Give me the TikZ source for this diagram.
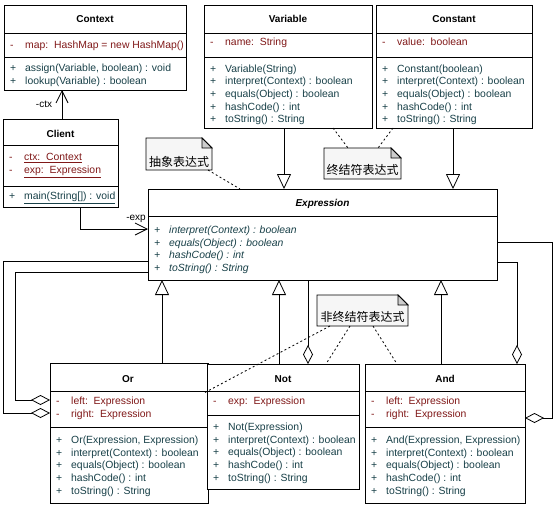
\documentclass[tikz,border=0pt]{standalone}
\usepackage{fontspec}
\setmainfont{Liberation Sans}
\newfontfamily\cjk{Noto Sans CJK SC}
\usetikzlibrary{arrows.meta,calc}
\definecolor{attrc}{RGB}{128,24,24}
\definecolor{methc}{RGB}{24,64,72}
\definecolor{notebg}{RGB}{246,246,246}
\definecolor{foldbg}{RGB}{205,205,205}
\newcommand\cellsign[1]{\makebox[15pt][l]{#1}}
\newcommand\methodrows[5]{%
  \foreach \t [count=\i] in {#5} {\node[#4] (#1m\i) at (#2,{#3+12.7*(\i-1)}) {\cellsign{+}\t};}}
\begin{document}
\begin{tikzpicture}[x=1pt,y=-1pt,
  cls/.style={draw, fill=white, rectangle, inner sep=0pt, outer sep=0pt, anchor=north west, line width=0.8pt},
  ttl/.style={anchor=base, inner sep=0pt, font=\fontsize{10}{12}\selectfont\bfseries},
  arow/.style={anchor=base west, inner sep=0pt, font=\fontsize{10.4}{12}\selectfont, text=attrc},
  mrow/.style={anchor=base west, inner sep=0pt, font=\fontsize{10.4}{12}\selectfont, text=methc},
  irow/.style={anchor=base west, inner sep=0pt, font=\fontsize{10.4}{12}\selectfont\itshape, text=methc},
  lbl/.style={inner sep=0pt, font=\fontsize{10}{12}\selectfont},
  sepline/.style={line width=0.8pt},
  gen/.style={line width=0.8pt, -{Triangle[open, length=15pt, width=14pt]}},
  agg/.style={line width=0.8pt, -{Diamond[open, length=19pt, width=10pt]}},
  assoc/.style={line width=0.8pt, -{Straight Barb[length=12pt, width=12pt]}},
  notelink/.style={line width=0.8pt, dash pattern=on 2pt off 2.5pt},
  notebox/.style={rectangle, inner sep=0pt, outer sep=0pt, anchor=north west},
  noteshape/.style={draw, fill=notebg, line width=0.8pt},
  notefold/.style={draw, fill=foldbg, line width=0.8pt},
  notetext/.style={inner sep=0pt, font=\cjk\fontsize{12}{14}\selectfont}
]
\fill[white] (0,0) rectangle (555,506);
\useasboundingbox (0,0) rectangle (555,506);

% ---------- class boxes ----------
\node[cls, minimum width=182pt, minimum height=85pt] (ctx) at (4,5) {};
\node[cls, minimum width=168pt, minimum height=123pt] (var) at (204,5) {};
\node[cls, minimum width=156pt, minimum height=123pt] (con) at (376,5) {};
\node[cls, minimum width=115pt, minimum height=88pt] (cli) at (3,119) {};
\node[cls, minimum width=349pt, minimum height=91pt] (expr) at (148,189) {};
\node[cls, minimum width=158pt, minimum height=140pt] (or) at (50,363) {};
\node[cls, minimum width=152pt, minimum height=125pt] (not) at (207,364) {};
\node[cls, minimum width=160pt, minimum height=139pt] (and) at (365,364) {};

% compartments
\draw[sepline] ($(ctx.north west)+(0,28)$) -- ($(ctx.north east)+(0,28)$);
\draw[sepline] ($(ctx.north west)+(0,52)$) -- ($(ctx.north east)+(0,52)$);
\draw[sepline] ($(var.north west)+(0,28)$) -- ($(var.north east)+(0,28)$);
\draw[sepline] ($(var.north west)+(0,52)$) -- ($(var.north east)+(0,52)$);
\draw[sepline] ($(con.north west)+(0,28)$) -- ($(con.north east)+(0,28)$);
\draw[sepline] ($(con.north west)+(0,52)$) -- ($(con.north east)+(0,52)$);
\draw[sepline] ($(cli.north west)+(0,26)$) -- ($(cli.north east)+(0,26)$);
\draw[sepline] ($(cli.north west)+(0,67)$) -- ($(cli.north east)+(0,67)$);
\draw[sepline] ($(expr.north west)+(0,27)$) -- ($(expr.north east)+(0,27)$);
\draw[sepline] ($(or.north west)+(0,28)$) -- ($(or.north east)+(0,28)$);
\draw[sepline] ($(or.north west)+(0,64)$) -- ($(or.north east)+(0,64)$);
\draw[sepline] ($(not.north west)+(0,27)$) -- ($(not.north east)+(0,27)$);
\draw[sepline] ($(not.north west)+(0,51)$) -- ($(not.north east)+(0,51)$);
\draw[sepline] ($(and.north west)+(0,27)$) -- ($(and.north east)+(0,27)$);
\draw[sepline] ($(and.north west)+(0,63)$) -- ($(and.north east)+(0,63)$);

% ---------- Context ----------
\node[ttl] (ctxt) at (95,22.5) {Context};
\node[arow] (ctxa1) at (10,48.5) {\cellsign{-}map:\ \ HashMap = new HashMap()};
\methodrows{ctx}{10}{71.8}{mrow}{{assign(Variable, boolean) : void},{lookup(Variable) : boolean}}

% ---------- Variable ----------
\node[ttl] (vart) at (288,22.5) {Variable};
\node[arow] (vara1) at (210,45.5) {\cellsign{-}name:\ \ String};
\methodrows{var}{210}{72}{mrow}{{Variable(String)},{interpret(Context) : boolean},{equals(Object) : boolean},{hashCode() : int},{toString() : String}}

% ---------- Constant ----------
\node[ttl] (cont) at (454,22.5) {Constant};
\node[arow] (cona1) at (382,45.5) {\cellsign{-}value:\ \ boolean};
\methodrows{con}{382}{72}{mrow}{{Constant(boolean)},{interpret(Context) : boolean},{equals(Object) : boolean},{hashCode() : int},{toString() : String}}

% ---------- Client ----------
\node[ttl] (clit) at (60.5,137.5) {Client};
\node[arow] (clia1) at (9,160.5) {\cellsign{-}\underline{ctx:\ \ Context}};
\node[arow] (clia2) at (9,173.5) {\cellsign{-}\underline{exp:\ \ Expression}};
\node[mrow] (clim1) at (9,199.5) {\cellsign{+}\underline{main(String[]) : void}};

% ---------- Expression ----------
\node[ttl, font=\fontsize{10}{12}\selectfont\bfseries\itshape] (exprt) at (322.5,206.5) {Expression};
\methodrows{expr}{154}{233.5}{irow}{{interpret(Context) : boolean},{equals(Object) : boolean},{hashCode() : int},{toString() : String}}

% ---------- Or ----------
\node[ttl] (ort) at (128,382.5) {Or};
\node[arow] (ora1) at (56,404.5) {\cellsign{-}left:\ \ Expression};
\node[arow] (ora2) at (56,417) {\cellsign{-}right:\ \ Expression};
\methodrows{or}{56}{443.5}{mrow}{{Or(Expression, Expression)},{interpret(Context) : boolean},{equals(Object) : boolean},{hashCode() : int},{toString() : String}}

% ---------- Not ----------
\node[ttl] (nott) at (283,382.5) {Not};
\node[arow] (nota1) at (213,404.5) {\cellsign{-}exp:\ \ Expression};
\methodrows{not}{213}{430.5}{mrow}{{Not(Expression)},{interpret(Context) : boolean},{equals(Object) : boolean},{hashCode() : int},{toString() : String}}

% ---------- And ----------
\node[ttl] (andt) at (445,382.5) {And};
\node[arow] (anda1) at (371,404.5) {\cellsign{-}left:\ \ Expression};
\node[arow] (anda2) at (371,417) {\cellsign{-}right:\ \ Expression};
\methodrows{and}{371}{443.5}{mrow}{{And(Expression, Expression)},{interpret(Context) : boolean},{equals(Object) : boolean},{hashCode() : int},{toString() : String}}

% ---------- associations ----------
\draw[assoc] ($(cli.north west)+(59,0)$) -- ($(ctx.south west)+(58,0)$);
\node[lbl] (lctx) at (44,104) {-ctx};
\draw[assoc] ($(cli.south west)+(77,0)$) |- ($(expr.north west)+(0,40)$);
\node[lbl] (lexp) at (136,219) {-exp};

% ---------- generalizations ----------
\draw[gen] ($(var.south west)+(80,0)$) -- ($(expr.north west)+(136,0)$);
\draw[gen] ($(con.south west)+(77,0)$) -- ($(expr.north west)+(305,0)$);
\draw[gen] ($(or.north west)+(112,0)$) -- ($(expr.south west)+(14,0)$);
\draw[gen] ($(not.north west)+(72,0)$) -- ($(expr.south west)+(131,0)$);
\draw[gen] ($(and.north west)+(76,0)$) -- ($(expr.south west)+(293,0)$);

% ---------- aggregations ----------
\draw[agg] ($(expr.south west)+(160,0)$) -- ($(not.north west)+(101,0)$);
\draw[agg] ($(expr.north west)+(0,72)$) -- ++(-145,0) |- ($(or.north west)+(0,50)$);
\draw[agg] ($(expr.north west)+(0,83)$) -- ++(-133,0) |- ($(or.north west)+(0,37)$);
\draw[agg] ($(expr.north east)+(0,73)$) -| ($(and.north west)+(152,0)$);
\draw[agg] ($(expr.north east)+(0,53)$) -- ++(55,0) |- ($(and.north east)+(0,54)$);

% ---------- notes ----------
\node[notebox, minimum width=66pt, minimum height=32pt] (n1) at (146,138) {};
\node[notebox, minimum width=77pt, minimum height=31pt] (n2) at (324,148) {};
\node[notebox, minimum width=91pt, minimum height=31pt] (n3) at (317,295) {};
\foreach \n in {n1,n2,n3}{
  \draw[noteshape] (\n.north west) -- ($(\n.north east)+(-10,0)$) -- ($(\n.north east)+(0,10)$) -- (\n.south east) -- (\n.south west) -- cycle;
  \draw[notefold] ($(\n.north east)+(-10,0)$) -- ($(\n.north east)+(-10,10)$) -- ($(\n.north east)+(0,10)$) -- cycle;
}
\node[notetext] (n1t) at ($(n1.center)+(0,8)$) {抽象表达式};
\node[notetext] (n2t) at ($(n2.center)+(0,6.5)$) {终结符表达式};
\node[notetext] (n3t) at ($(n3.center)+(0,6.5)$) {非终结符表达式};

\draw[notelink] ($(n1.south east)+(-4,0)$) -- ($(expr.north west)+(92,0)$);
\draw[notelink] ($(var.south west)+(129,0)$) -- ($(n2.north west)+(24,0)$);
\draw[notelink] ($(con.south west)+(17,0)$) -- ($(n2.north west)+(54,0)$);
\draw[notelink] ($(n3.south west)+(13,0)$) -- ($(or.north east)+(-4,30)$);
\draw[notelink] ($(n3.south west)+(33,0)$) -- ($(not.north west)+(119,0)$);
\draw[notelink] ($(n3.south west)+(56,0)$) -- ($(and.north west)+(32,0)$);
\end{tikzpicture}
\end{document}
